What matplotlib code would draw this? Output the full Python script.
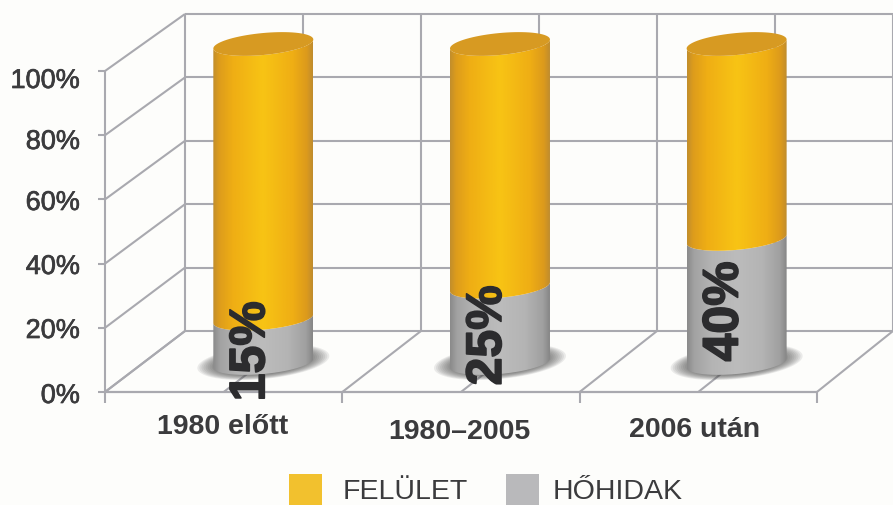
import numpy as np
import matplotlib
matplotlib.use("Agg")
import matplotlib.pyplot as plt
import matplotlib.patheffects as pe
from matplotlib.colors import LinearSegmentedColormap
from matplotlib.patches import Polygon, Rectangle, PathPatch
from matplotlib.path import Path

# ---------- data ----------
categories = ["1980 előtt", "1980–2005", "2006 után"]
hohidak = [15, 25, 40]
felulet = [85, 75, 60]
y_ticks = [0, 20, 40, 60, 80, 100]
legend_labels = ["FELÜLET", "HŐHIDAK"]

# ---------- style / layout ----------
FONT = "Liberation Sans"
TXT = "#3b3b3d"
GRID = "#a9a9af"
BG = "#fdfdfb"
SW, SH = 893, 506
# oblique projection of the 3D box: front plane and back wall
FX0, FDX, FY0, FK = 105.0, 237.3, 393.0, 3.21
BX0, BDX, BY0, BK = 185.0, 236.0, 332.0, 3.17
RX, RY, TILT = 50.0, 11.0, 4.5   # cylinder ellipse radii and tilt
CYL_DY, SEAM_DROP = 1.5, 3.5


def proj(c, v, d):
    """category position c, value v, depth d (0 front, 1 back) -> pixel."""
    xf, yf = FX0 + FDX * c, FY0 - FK * v
    xb, yb = BX0 + BDX * c, BY0 - BK * v
    return xf + (xb - xf) * d, yf + (yb - yf) * d


plt.rcParams["font.family"] = [FONT, "DejaVu Sans"]
fig = plt.figure(figsize=(SW / 100, SH / 100), dpi=100, facecolor=BG)
ax = fig.add_axes([0, 0, 1, 1])
ax.set_axis_off()


def line(p, q, z=1, lw=1.5, color=GRID):
    ax.plot([p[0], q[0]], [p[1], q[1]], color=color, lw=lw, zorder=z,
            solid_capstyle="butt")


n = len(categories)
# grid: back wall, side wall, floor
for v in y_ticks:
    line(proj(0, v, 1), proj(n, v, 1))
    line(proj(0, v, 0), proj(0, v, 1))
    fx, fy = proj(0, v, 0)
    line((fx - 7, fy), (fx, fy))
line(proj(0, 0, 0), proj(n, 0, 0), lw=1.6)
line(proj(0, 0, 0), proj(0, 100, 0))
for c2 in range(0, 2 * n + 1):
    c = c2 / 2
    line(proj(c, 0, 1), proj(c, 100, 1))
    line(proj(c, 0, 0), proj(c, 0, 1))
    if c2 % 2 == 0:
        fx, fy = proj(c, 0, 0)
        line((fx, fy), (fx, fy + 11))


def arc(cx, cy, t0, t1, num=80):
    t = np.linspace(t0, t1, num)
    return np.column_stack([cx + RX * np.cos(t),
                            cy + RY * np.sin(t) - TILT * np.cos(t)])


def gradient_side(cx, y_low, y_high, cmap, z):
    """Cylinder wall between two ellipses, shaded left to right."""
    low = arc(cx, y_low, np.pi, 0)
    high = arc(cx, y_high, 0, np.pi)
    verts = np.vstack([low, high, low[:1]])
    path = Path(verts)
    grad = np.linspace(0, 1, 256).reshape(1, -1)
    im = ax.imshow(grad, cmap=cmap, aspect="auto", zorder=z,
                   extent=(cx - RX, cx + RX, y_low + RY + 8, y_high - RY - 8))
    patch = PathPatch(path, transform=ax.transData, fc="none", ec="none")
    ax.add_patch(patch)
    im.set_clip_path(patch)


orange = LinearSegmentedColormap.from_list("o", [
    (0, "#c28e2c"), (0.06, "#dd9c1c"), (0.2, "#efae14"), (0.5, "#f8c414"),
    (0.8, "#efae14"), (0.94, "#dc9a1c"), (1, "#bf8c2e")])
grey = LinearSegmentedColormap.from_list("g", [
    (0, "#8a8a8a"), (0.07, "#a2a2a2"), (0.25, "#b4b4b4"), (0.5, "#bcbcbc"),
    (0.75, "#b4b4b4"), (0.93, "#a0a0a0"), (1, "#868686")])

for i, (h, f) in enumerate(zip(hohidak, felulet)):
    c = i + 0.5
    cx, y0 = proj(c, 0, 0.5)
    y0 += CYL_DY
    seam = proj(c, h, 0.5)[1] + CYL_DY + SEAM_DROP
    top = proj(c, h + f, 0.5)[1] + CYL_DY
    # soft floor shadow
    t = np.linspace(0, 2 * np.pi, 100)
    for k in np.linspace(1.0, 0.72, 10):
        ax.fill(cx + 66 * k * np.cos(t),
                y0 - 1 + 17 * k * np.sin(t) - 6 * k * np.cos(t),
                color="#4c4c4c", alpha=0.10, lw=0, zorder=2)
    gradient_side(cx, y0, seam, grey, 3)
    gradient_side(cx, seam, top, orange, 3)
    ax.add_patch(Polygon(arc(cx, top, 0, 2 * np.pi), closed=True,
                         fc="#d79a22", ec="none", zorder=4))
    ax.text(cx - 12, (y0 + proj(c, h, 0.5)[1]) / 2 + 13, f"{h}%",
            rotation=90, ha="center", va="center", fontsize=36,
            fontweight="bold", color="#2c2c2e", zorder=6,
            path_effects=[pe.withStroke(linewidth=1.2, foreground="#2c2c2e")])

# y tick labels
tick_label_y = [397, 332, 268, 204, 143, 82]
for v, y in zip(y_ticks, tick_label_y):
    ax.text(80, y, f"{v}%", ha="right", va="center",
            fontsize=19.5, color=TXT,
            path_effects=[pe.withStroke(linewidth=0.5, foreground=TXT)])

# category labels
cat_x = [223, 459, 695]
cat_y = [427, 432, 430]
for name, x, y in zip(categories, cat_x, cat_y):
    ax.text(x, y, name, ha="center", va="center", fontsize=20.5,
            fontweight="bold", color=TXT)

# legend
leg_box_x = [289, 506]
leg_txt_x = [343, 553]
leg_cols = ["#f2c12e", "#b9b9bb"]
for x, tx, col, lab in zip(leg_box_x, leg_txt_x, leg_cols, legend_labels):
    ax.add_patch(Rectangle((x, 475), 33, 32, fc=col, ec="none", zorder=2))
    ax.text(tx, 499, lab, ha="left", va="baseline", fontsize=20.5, color=TXT)

ax.set_xlim(0, SW)
ax.set_ylim(SH, 0)
fig.savefig("out.png", dpi=100, facecolor=BG)
